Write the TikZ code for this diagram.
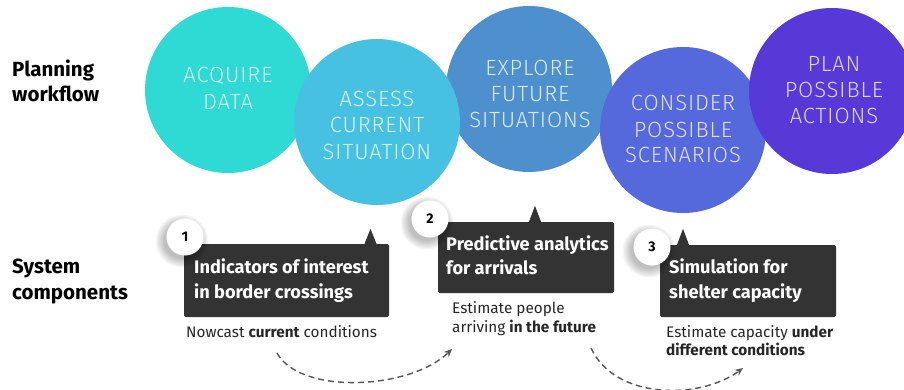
\documentclass[tikz,border=0pt]{standalone}
\usepackage{fontspec}
\setmainfont{Fira Sans}
\newfontfamily\thinfont{Fira Sans Light}[LetterSpace=4]
\usetikzlibrary{arrows.meta}
\definecolor{cA}{HTML}{2FDAD4}
\definecolor{cB}{HTML}{46C1E2}
\definecolor{cC}{HTML}{4E90CD}
\definecolor{cD}{HTML}{5569DD}
\definecolor{cE}{HTML}{5639D6}
\definecolor{boxc}{HTML}{333333}
\definecolor{dashc}{HTML}{555555}
\tikzset{
  wfcircle/.style={circle, inner sep=0pt, minimum size=166},
  wftext/.style={anchor=base, inner sep=0pt, text=white, text opacity=0.8, font=\thinfont\fontsize{22}{26}\selectfont},
  sidelabel/.style={anchor=base west, inner sep=0pt, font=\bfseries\fontsize{20.5}{24}\selectfont},
  compbox/.style={fill=boxc, rounded corners=2pt, inner sep=0pt},
  boxtitle/.style={anchor=base west, inner sep=0pt, text=white, font=\bfseries\fontsize{18.2}{21}\selectfont},
  subtext/.style={anchor=base west, inner sep=0pt, text=black!85, font=\fontsize{15.3}{18}\selectfont},
  numcircle/.style={circle, fill=white, minimum size=37, inner sep=0pt, font=\bfseries\fontsize{14}{16}\selectfont},
  flowarrow/.style={draw=dashc, line width=1.4pt, dash pattern=on 6pt off 4pt, -{Stealth[length=8pt,width=7pt]}}
}
\newcommand{\softshadow}[2]{%
  \foreach \k in {0,1,...,7}{\fill[black, opacity=0.035] ([xshift=-3pt,yshift=-4pt]#1) circle ({#2+\k*1.2pt});}}
\begin{document}
\begin{tikzpicture}[x=1pt,y=-1pt]
\useasboundingbox (0,0) rectangle (904,390);
\begin{scope}
\clip (0,0) rectangle (904,390);
% circles
\node[wfcircle, fill=cA] (c1) at (228,90) {};
\node[wfcircle, fill=cC] (c3) at (529,89) {};
\node[wfcircle, fill=cB] (c2) at (377,122) {};
\node[wfcircle, fill=cD] (c4) at (683,130) {};
\node[wfcircle, fill=cE] (c5) at (832,91) {};
\end{scope}
% circle texts
\node[wftext] (t1a) at (228,83) {ACQUIRE};
\node[wftext] (t1b) at (228,110) {DATA};
\node[wftext] (t2a) at (377,107) {ASSESS};
\node[wftext] (t2b) at (377,133) {CURRENT};
\node[wftext] (t2c) at (377,160) {SITUATION};
\node[wftext] (t3a) at (530,76) {EXPLORE};
\node[wftext] (t3b) at (530,102) {FUTURE};
\node[wftext] (t3c) at (530,128) {SITUATIONS};
\node[wftext] (t4a) at (683,111) {CONSIDER};
\node[wftext] (t4b) at (683,138) {POSSIBLE};
\node[wftext] (t4c) at (683,163) {SCENARIOS};
\node[wftext] (t5a) at (834,72) {PLAN};
\node[wftext] (t5b) at (834,98) {POSSIBLE};
\node[wftext] (t5c) at (834,124) {ACTIONS};
% side labels
\node[sidelabel] (p1) at (12,77) {Planning};
\node[sidelabel] (p2) at (12,102) {workflow};
\node[sidelabel] (s1) at (12,273) {System};
\node[sidelabel] (s2) at (12,299) {components};
% boxes
\node[compbox, minimum width=205, minimum height=73] (b1) at (286.5,280.5) {};
\node[compbox, minimum width=176, minimum height=71] (b2) at (526,257.5) {};
\node[compbox, minimum width=176, minimum height=72] (b3) at (748,281) {};
% pointers
\fill[boxc] ([xshift=78pt]b1.north) -- ++(6,-15) -- ++(6,15) -- cycle;
\fill[boxc] ([xshift=3pt]b2.north) -- ++(6,-16) -- ++(6,16) -- cycle;
\fill[boxc] ([xshift=-71pt]b3.north) -- ++(6,-16) -- ++(6,16) -- cycle;
% box titles
\node[boxtitle] (bt1a) at (194,273) {Indicators of interest};
\node[boxtitle] (bt1b) at (194,298) {in border crossings};
\node[boxtitle] (bt2a) at (446,250) {Predictive analytics};
\node[boxtitle] (bt2b) at (446,274) {for arrivals};
\node[boxtitle] (bt3a) at (669,273) {Simulation for};
\node[boxtitle] (bt3b) at (669,298) {shelter capacity};
% number circles
\coordinate (n1c) at (185,237);
\coordinate (n2c) at (430,219);
\coordinate (n3c) at (652,247);
\softshadow{n1c}{18pt}
\softshadow{n2c}{18pt}
\softshadow{n3c}{18pt}
\node[numcircle] (n1) at (n1c) {1};
\node[numcircle] (n2) at (n2c) {2};
\node[numcircle] (n3) at (n3c) {3};
% sub texts
\node[subtext] (d1) at (186,337) {Nowcast \textbf{current} conditions};
\node[subtext] (d2a) at (452,313) {Estimate people};
\node[subtext] (d2b) at (452,332) {arriving \textbf{in the future}};
\node[subtext] (d3a) at (666,337) {Estimate capacity \textbf{under}};
\node[subtext] (d3b) at (666,355) {\textbf{different conditions}};
% dashed arrows
\coordinate (a1s) at (277,353);
\coordinate (a1e) at (452,349);
\coordinate (a2s) at (591,348);
\coordinate (a2e) at (743,368);
\draw[flowarrow] (a1s) .. controls (300,395) and (410,390) .. (a1e);
\draw[flowarrow] (a2s) .. controls (615,400) and (700,400) .. (a2e);
\end{tikzpicture}
\end{document}
